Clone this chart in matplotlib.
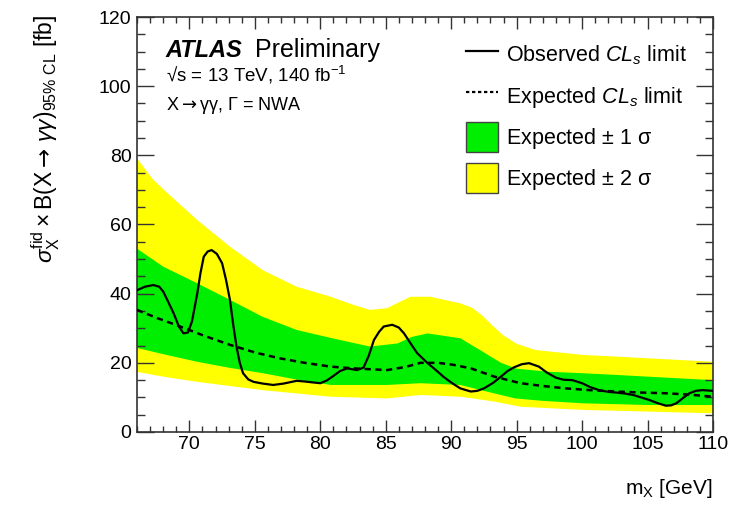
import numpy as np
import matplotlib.pyplot as plt
from matplotlib.lines import Line2D
from matplotlib.patches import Patch

plt.rcParams['font.family'] = ['Liberation Sans', 'DejaVu Sans']
plt.rcParams['mathtext.fontset'] = 'custom'
plt.rcParams['mathtext.rm'] = 'Liberation Sans'
plt.rcParams['mathtext.it'] = 'Liberation Sans:italic'
plt.rcParams['mathtext.bf'] = 'Liberation Sans:bold'
plt.rcParams['mathtext.sf'] = 'DejaVu Sans'

# observed CLs limit [fb] vs m_X [GeV]
obs_mass = [66.0, 66.6, 67.25, 67.7, 68.0, 68.4, 68.8, 69.2, 69.55, 69.9,
            70.2, 70.6, 70.85, 71.1, 71.4, 71.7, 72.1, 72.5, 72.8, 73.1,
            73.35, 73.6, 73.85, 74.1, 74.5, 74.9, 75.6, 76.4, 77.2, 78.2,
            78.8, 79.5, 80.0, 80.5, 81.0, 81.5, 82.05, 82.8, 83.3, 83.7,
            84.1, 84.5, 84.85, 85.5, 86.0, 86.4, 86.9, 87.4, 88.2, 88.8,
            89.4, 90.0, 90.7, 91.5, 92.0, 92.5, 93.2, 93.8, 94.3, 94.8,
            95.4, 95.95, 96.7, 97.3, 98.0, 98.6, 99.25, 100.0, 100.6, 101.3,
            102.0, 102.6, 103.3, 103.9, 104.5, 105.1, 105.8, 106.4, 106.8, 107.2,
            107.7, 108.2, 108.7, 109.2, 110.0]
obs_limit = [41.0, 42.0, 42.5, 42.0, 40.6, 37.5, 34.3, 30.5, 28.5, 28.8,
             32.0, 40.0, 46.0, 50.7, 52.2, 52.6, 51.5, 48.8, 44.0, 38.2,
             31.0, 24.7, 20.0, 17.0, 15.2, 14.5, 14.0, 13.6, 14.0, 14.8,
             14.6, 14.3, 14.1, 14.9, 16.2, 17.6, 18.4, 17.9, 18.6, 22.0,
             26.6, 29.0, 30.5, 31.0, 30.2, 28.5, 25.6, 22.8, 19.9, 18.0,
             16.0, 14.3, 12.6, 11.7, 11.9, 12.6, 14.2, 16.0, 17.6, 18.7,
             19.6, 19.9, 18.9, 17.2, 15.7, 15.1, 15.0, 14.1, 13.0, 12.1,
             11.6, 11.4, 11.1, 10.7, 10.0, 9.3, 8.3, 7.6, 7.7, 8.3,
             9.8, 11.2, 11.9, 12.1, 11.9]

# expected limit
exp_mass = [66, 67.5, 69.3, 71, 73.1, 75, 76.9, 78.8, 80.8, 82.5, 85.1, 86.5,
            87.65, 89, 90.2, 91.5, 93.3, 95.3, 97, 98.75, 100.6, 102.6, 104.5,
            106.4, 108.2, 110]
exp_limit = [35.3, 33.0, 30.5, 28.0, 25.2, 23.0, 21.3, 20.0, 18.9, 18.4, 17.9, 18.8,
             20.0, 20.0, 19.4, 18.4, 16.0, 14.1, 13.3, 12.6, 12.1, 11.7, 11.4,
             11.2, 10.8, 10.2]

# +1 sigma / -1 sigma edges
p1_mass = [66, 68, 70.6, 73.1, 75.6, 78.2, 80.8, 83.8, 85.9, 87, 88.2, 90.7,
           92.2, 93.8, 95.0, 97.5, 100, 102.6, 106, 110]
p1_limit = [53.0, 47.8, 43.0, 38.2, 33.3, 29.5, 27.2, 24.7, 25.6, 27.5, 28.5, 27.1,
            23.7, 20.0, 18.3, 17.4, 17.0, 16.5, 15.8, 15.0]
m1_mass = [66, 68, 70.6, 73, 75.6, 78, 80.8, 85.1, 87.65, 90.7, 92.7, 94.9,
           97, 100, 105, 110]
m1_limit = [24.3, 22.5, 20.3, 18.6, 17.0, 15.3, 13.6, 13.6, 14.1, 13.6, 11.7, 9.7,
            9.0, 8.3, 7.8, 7.8]

# +2 sigma / -2 sigma edges
p2_mass = [66, 67.25, 68.5, 70.6, 73.1, 75.6, 78.2, 80.8, 82.5, 83.8, 85.1, 86.0,
           86.9, 88.4, 90.7, 91.6, 92.4, 93.2, 94.0, 95.0, 96.45, 100, 105.1, 110]
p2_limit = [79.1, 72.9, 68.5, 61.3, 53.6, 46.8, 42.0, 39.1, 36.8, 35.3, 35.8, 37.5,
            39.1, 39.1, 37.2, 35.9, 33.6, 30.6, 27.9, 25.5, 23.7, 22.3, 21.3, 20.3]
m2_mass = [66, 68, 70.6, 75.6, 80.8, 85.1, 87.65, 90.7, 93.3, 95.3, 100, 105, 110]
m2_limit = [17.4, 16.0, 14.5, 12.1, 10.2, 9.7, 10.7, 10.2, 8.8, 7.3, 6.4, 5.9, 5.4]

green = '#00ee00'
yellow = '#ffff00'

fig = plt.figure(figsize=(7.43, 5.05), dpi=100)
ax = fig.add_axes([0.1844, 0.1446, 0.7752, 0.8217])


def band(ax, xu, yu, xl, yl, color):
    xs = np.concatenate([xu, xl[::-1]])
    ys = np.concatenate([yu, yl[::-1]])
    ax.fill(xs, ys, color=color, lw=0, zorder=1)


band(ax, np.array(p2_mass), np.array(p2_limit), np.array(m2_mass), np.array(m2_limit), yellow)
band(ax, np.array(p1_mass), np.array(p1_limit), np.array(m1_mass), np.array(m1_limit), green)
ax.plot(exp_mass, exp_limit, color='black', lw=1.8, ls=(0, (2.5, 1.8)), zorder=3)
ax.plot(obs_mass, obs_limit, color='black', lw=1.6, zorder=4, solid_joinstyle='round')

ax.set_xlim(66, 110)
ax.set_ylim(0, 120)
ax.set_xticks(np.arange(70, 111, 5))
ax.set_xticks(np.arange(66, 111, 1), minor=True)
ax.set_yticks(np.arange(0, 121, 20))
ax.set_yticks(np.arange(0, 121, 5), minor=True)
ax.tick_params(axis='both', which='both', direction='in', top=True, right=True,
               labelsize=14, width=1.0, color='#333333')
ax.tick_params(axis='x', which='major', length=8.6, pad=3)
ax.tick_params(axis='x', which='minor', length=4.3)
ax.tick_params(axis='y', which='major', length=12.2, pad=4)
ax.tick_params(axis='y', which='minor', length=6.1)
for sp in ax.spines.values():
    sp.set_linewidth(1.2)
    sp.set_color('#333333')

ax.set_xlabel(r'm$_{\mathrm{X}}$ [GeV]', fontsize=15, ha='right')
ax.xaxis.set_label_coords(1.0, -0.108)
fig.text(0.062, 0.97,
         r'$\sigma_{\mathrm{X}}^{\mathrm{fid}}\times\mathrm{B(X}\mathsf{\rightarrow}\,\gamma\gamma\mathrm{)}_{\mathrm{95\%\ CL}}$ [fb]',
         rotation=90, ha='center', va='top', fontsize=16.5)

# experiment label
ax.text(0.050, 0.904, 'ATLAS', transform=ax.transAxes, fontsize=17,
        fontweight='bold', fontstyle='italic')
ax.text(0.205, 0.904, 'Preliminary', transform=ax.transAxes, fontsize=18)
ax.text(0.050, 0.844, '√s = 13 TeV, 140 fb$^{-1}$',
        transform=ax.transAxes, fontsize=13.5)
ax.text(0.050, 0.776, r'X$\mathsf{\rightarrow}$γγ, Γ = NWA', transform=ax.transAxes, fontsize=13)

handles = [Line2D([], [], color='black', lw=1.6),
           Line2D([], [], color='black', lw=1.6, ls=(0, (1.5, 1.2))),
           Patch(facecolor=green, edgecolor='#444444', lw=1.0),
           Patch(facecolor=yellow, edgecolor='#444444', lw=1.0)]
labels = [r'Observed $CL_s$ limit', r'Expected $CL_s$ limit',
          r'Expected $\pm$ 1 σ', r'Expected $\pm$ 2 σ']
ax.legend(handles, labels, loc='upper right', bbox_to_anchor=(0.955, 0.945),
          frameon=False, fontsize=15.5, handlelength=1.49, handleheight=1.77,
          handletextpad=0.37, labelspacing=0.51, borderaxespad=0, borderpad=0)

fig.savefig('out.png', dpi=100)
